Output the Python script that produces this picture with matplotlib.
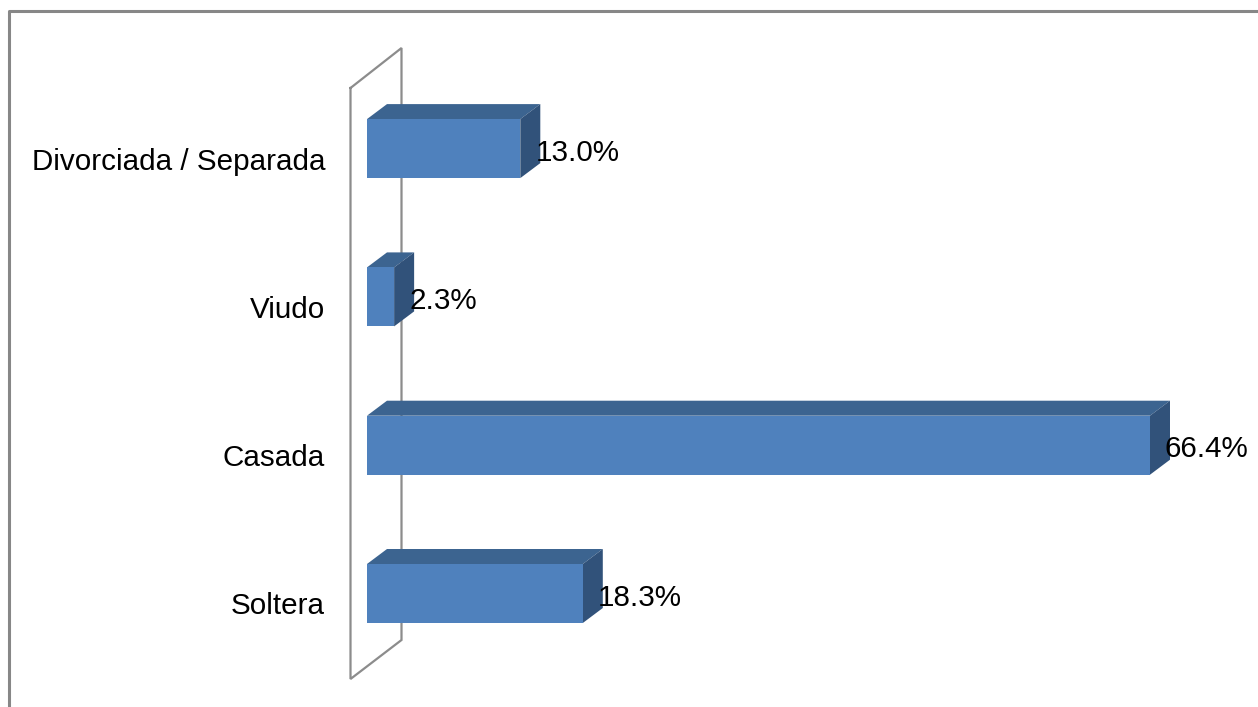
import matplotlib
matplotlib.use("Agg")
import matplotlib.pyplot as plt
from matplotlib.patches import Polygon
from matplotlib.lines import Line2D

# Marital status distribution (%)
categories = ["Soltera", "Casada", "Viudo", "Divorciada / Separada"]
values = [18.3, 66.4, 2.3, 13.0]
value_labels = ["18.3%", "66.4%", "2.3%", "13.0%"]

W, H = 1258, 707
fig = plt.figure(figsize=(W / 100, H / 100), dpi=100)
fig.patch.set_facecolor("white")

# Data axes spanning the whole canvas; x in percent, y in category index
px_per_pct = 783 / 66.4
px_per_cat = 148.3
x0_px, y0_px = 367, 593.5          # pixel position of value 0 / first category
xmin = -x0_px / px_per_pct
xmax = (W - x0_px) / px_per_pct
ymin = -(H - y0_px) / px_per_cat
ymax = y0_px / px_per_cat
ax = fig.add_axes([0, 0, 1, 1])
ax.set_xlim(xmin, xmax)
ax.set_ylim(ymin, ymax)
ax.axis("off")

def px(x, y):
    """Convert pixel coordinates (origin top-left) to data coordinates."""
    return (x - x0_px) / px_per_pct, (y0_px - y) / px_per_cat

# Back wall of the 3D plot area
wall = [(350.5, 88), (401.5, 48), (401.5, 640), (350.5, 679), (350.5, 88)]
wx, wy = zip(*[px(a, b) for a, b in wall])
ax.plot(wx, wy, color="#8c8c8c", lw=1.6, solid_joinstyle="miter", zorder=1)

front = "#4F81BD"
top_c = "#3C6490"
side_c = "#31527A"
bar_h = 59 / px_per_cat
ddx = 20 / px_per_pct
ddy = 15 / px_per_cat
fs = 21.3

for i, (cat, v, lab) in enumerate(zip(categories, values, value_labels)):
    yb = i - bar_h / 2
    yt = i + bar_h / 2
    ax.add_patch(Polygon([(0, yt), (ddx, yt + ddy), (v + ddx, yt + ddy), (v, yt)],
                         closed=True, facecolor=top_c, edgecolor="none", zorder=3))
    ax.add_patch(Polygon([(v, yb), (v, yt), (v + ddx, yt + ddy), (v + ddx, yb + ddy)],
                         closed=True, facecolor=side_c, edgecolor="none", zorder=3))
    ax.barh(i, v, height=bar_h, left=0, color=front, edgecolor="none", zorder=4)
    ax.text(v + 15 / px_per_pct, i - 4 / px_per_cat, lab, ha="left", va="center",
            fontsize=fs, family="Liberation Sans", color="black", zorder=5)
    ax.text(-42 / px_per_pct, i - 13 / px_per_cat, cat, ha="right", va="center",
            fontsize=fs, family="Liberation Sans", color="black", zorder=5)

# Chart border (top and left edges visible)
fig.add_artist(Line2D([8.5 / W, 8.5 / W, 1.0], [0, 1 - 10.5 / H, 1 - 10.5 / H],
                      transform=fig.transFigure, color="#878787", lw=2.2))

fig.savefig("out.png", dpi=100, facecolor="white")
